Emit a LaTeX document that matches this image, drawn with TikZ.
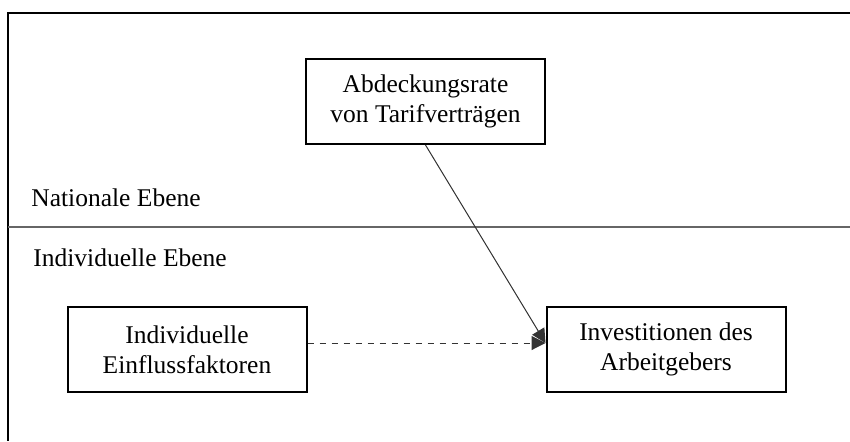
\documentclass[tikz,border=0pt]{standalone}
\usepackage{fontspec}
\setmainfont{Liberation Serif}
\usetikzlibrary{arrows.meta}
\tikzset{
	boite/.style={draw, line width=1pt, minimum width=119.5pt, minimum height=42.5pt,
		align=center, inner sep=0pt, font=\fontsize{12.75}{15}\selectfont},
	ebene/.style={anchor=base west, inner sep=0pt, font=\fontsize{12.75}{15}\selectfont},
	fleche/.style={-{Triangle[length=7pt,width=7pt]}, line width=0.5pt, black!80}
}
\begin{document}
\begin{tikzpicture}[x=0.5pt,y=-0.5pt]
	\useasboundingbox (0,0) rectangle (850,441);
	% le cadre
	\draw[line width=1.1pt] (850,13) -- (8,13) -- (8,441);
	\draw[black!60, line width=0.6pt] (8,227) -- (850,227);
	\node[ebene] (nat) at (31,206) {Nationale Ebene};
	\node[ebene] (ind) at (33,266) {Individuelle Ebene};
	% les boites
	\node[boite] (abd) at (425.5,101.5) {Abdeckungsrate\\von Tarifverträgen};
	\node[boite] (einf) at (187,349.5) {Individuelle\\Einflussfaktoren};
	\node[boite] (inv) at (666,349.5) {Investitionen des\\Arbeitgebers};
	% les fleches
	\coordinate (ziel) at ([yshift=3.25pt]inv.west);
	\draw[fleche, dashed] (einf.east |- ziel) -- (ziel);
	\draw[fleche] (abd.south) -- (ziel);
\end{tikzpicture}
\end{document}
